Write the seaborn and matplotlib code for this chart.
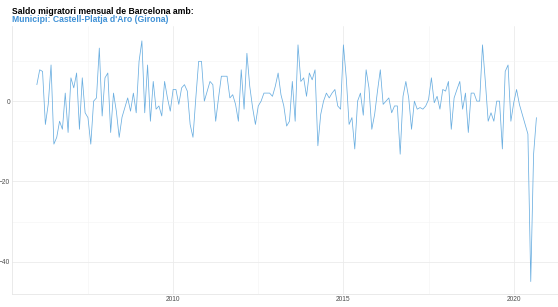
import numpy as np
import pandas as pd
import matplotlib
matplotlib.use("Agg")
import matplotlib.pyplot as plt
import seaborn as sns

# monthly migration balance, Jan 2006 onwards
saldo_2006_2008 = [4.1, 7.8, 7.4, -5.8, -0.8, 9, -10.7, -9, -5, -7, 2, -7.8,
                   5.8, 3.3, 7, -7, 5.8, -2.9, -4.1, -10.7, 0, 0.8, 13.2, -3.7,
                   5.8, 7, -7.8, 2]
saldo_2008_2010 = [-2.5, -9, -4, -1.6, 0.8, -2.5, 2, -2.9, 9.9, 15, -2.9, 9,
                   -5, 4.9, -2, -1.2, -3.7, 4.9, 0.8, -2.5, 2.9, 2.9, -0.8, 3.3,
                   4.1, 2.5, -5.8, -9, 0.8, 9.9]
saldo_2011_2013 = [9.9, 0, 2.5, 4.9, 4.1, -5, 0.8, 6.2, 6.2, 6.2, 0.8, 1.6,
                   -0.8, -5, 7.8, -2, 11.9, 3.7, -1.6, -5.8, -1.2, 0, 2, 2,
                   2, 1.2, 3.7, 7, 1.6]
saldo_2013_2016 = [-1.2, -6.2, -5, 4.9, -5, 14, 4.9, 5.8, 1.2, 7, 5.3, 7.8,
                   -11.1, -3.3, 0, 2, 0.8, 2, 2.9, -1.2, -2, 14, 5.8, -5.8,
                   -4.1, -11.9, 0, 2, -3.5]
saldo_2016_2018 = [7.8, 3.3, -7, -3.3, 2.5, 7.8, -0.8, 0, 0.8, -2.9, -1.2, -1.2,
                   -13.2, 1.2, 4.9, 0.8, -7, 0, -2, -1.6, -2, -1.2, 0.4, 5.8,
                   -0.4, 1.2, -2, 2.9, 2.5]
saldo_2018_2020 = [4.9, -7, 0.8, 2.9, 4.9, -2, 2, -7.8, 2, 2, 0, 0,
                   14, 4.9, -5, -2.9, -5, 0, 0, -11.9, 7.4, 9, -5, -0.4,
                   2.9, -0.8, -3.3, -5.8, -8.2, -44.9, -13.2, -4.1]

saldo = (saldo_2006_2008 + saldo_2008_2010 + saldo_2011_2013 +
         saldo_2013_2016 + saldo_2016_2018 + saldo_2018_2020)
dates = pd.date_range("2006-01-01", periods=len(saldo), freq="MS")

df = pd.DataFrame({
    "any": dates.year + (dates.month - 1) / 12,
    "saldo": saldo,
})

sns.set_theme(style="white")
plt.rcParams["font.family"] = ["Liberation Sans", "DejaVu Sans"]

fig = plt.figure(figsize=(5.58, 3.07), dpi=100)
ax = fig.add_axes([12 / 558, 13 / 307, 546 / 558, 268 / 307])

sns.lineplot(data=df, x="any", y="saldo", ax=ax, color="#6aaee0", linewidth=0.55)

ax.set_xlim(2005.27, 2021.3)
ax.set_ylim(-48.0, 18.7)

ax.set_xticks([2010, 2015, 2020])
ax.set_xticks([2007.5, 2012.5, 2017.5], minor=True)
ax.set_yticks([-40, -20, 0])
ax.set_yticks([-30, -10, 10], minor=True)

ax.grid(which="major", color="#ebebeb", linewidth=0.6)
ax.grid(which="minor", color="#f3f3f3", linewidth=0.4)
ax.set_axisbelow(True)

for side in ["top", "right"]:
    ax.spines[side].set_visible(False)
for side in ["left", "bottom"]:
    ax.spines[side].set_color("#e6e6e6")
    ax.spines[side].set_linewidth(0.6)

ax.tick_params(axis="both", which="both", length=0, labelsize=4.8, labelcolor="#4d4d4d", pad=1.5)
ax.set_xlabel("")
ax.set_ylabel("")

fig.text(12 / 558, 1 - 11 / 307, "Saldo migratori mensual de Barcelona amb:",
         fontsize=6.2, fontweight="bold", color="black", va="center")
fig.text(12 / 558, 1 - 20 / 307, "Municipi: Castell-Platja d'Aro (Girona)",
         fontsize=6.2, fontweight="bold", color="#3f91d6", va="center")

fig.savefig("out.png", dpi=100)
